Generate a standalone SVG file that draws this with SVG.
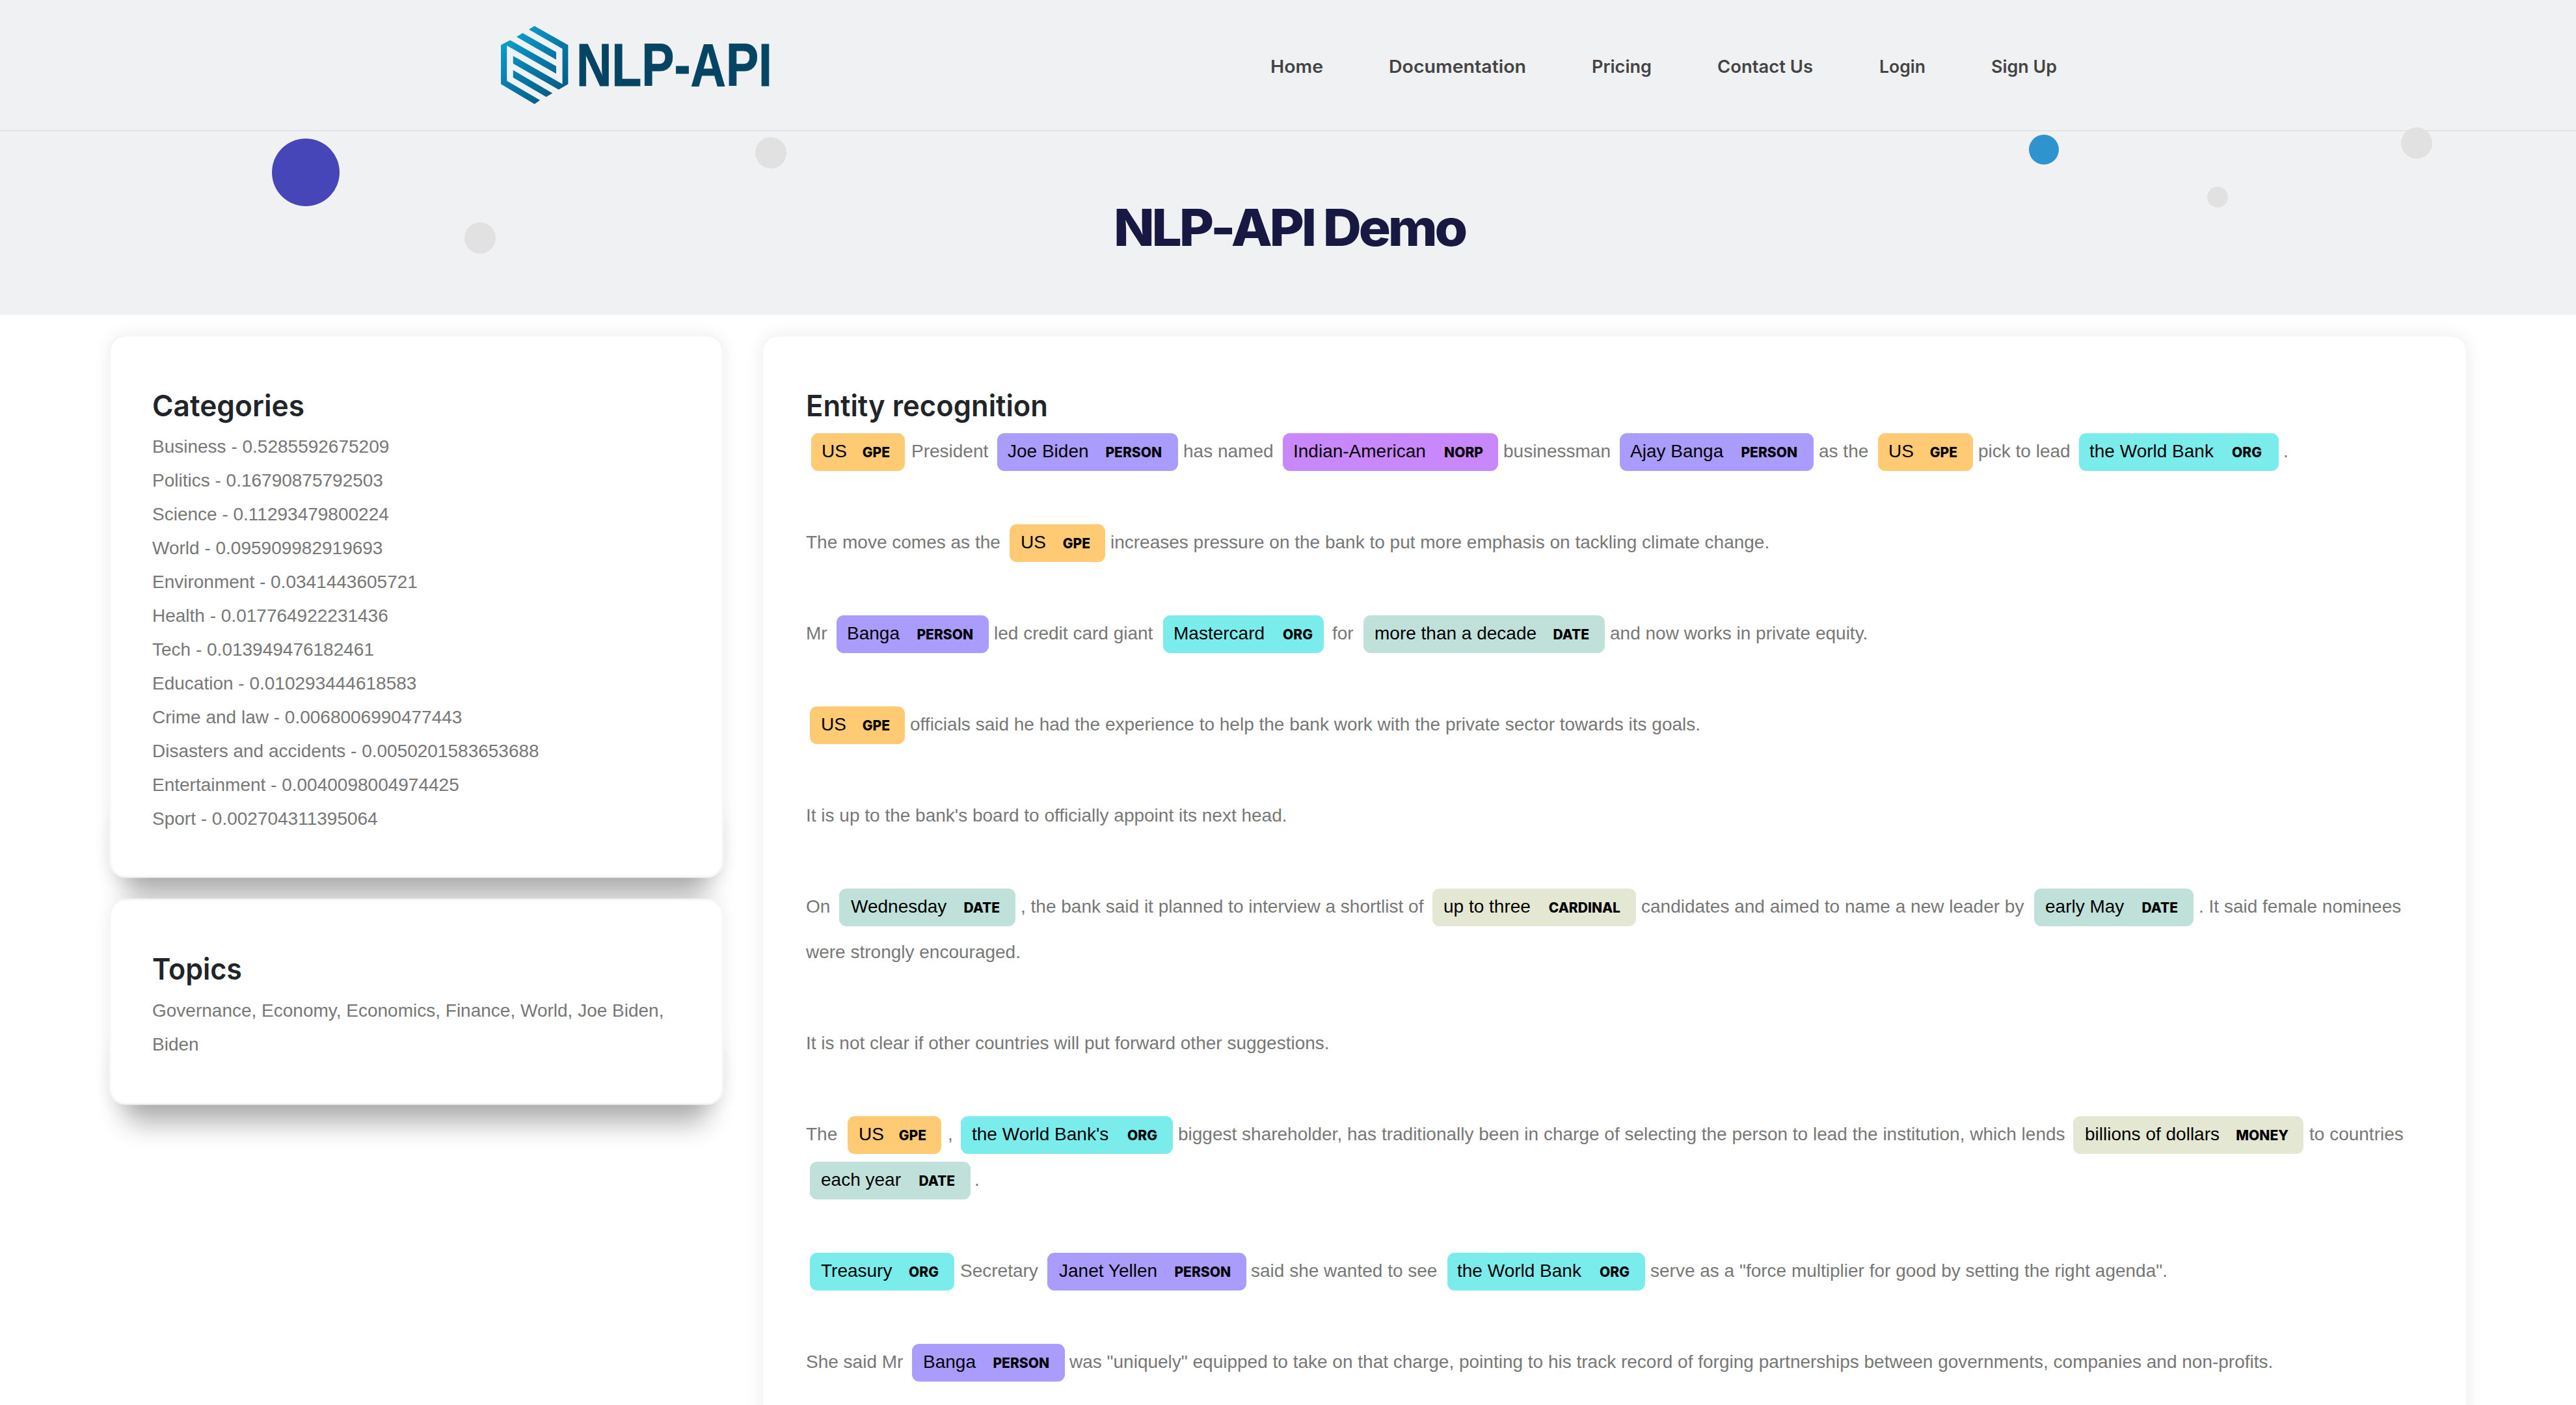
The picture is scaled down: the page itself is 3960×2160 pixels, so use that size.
<svg xmlns="http://www.w3.org/2000/svg" width="3960" height="2160" viewBox="0 0 3960 2160">
<defs>
<linearGradient id="lg" gradientUnits="userSpaceOnUse" x1="190" y1="150" x2="450" y2="420"><stop offset="0" stop-color="#0aa5d6"/><stop offset=".55" stop-color="#0478a8"/><stop offset="1" stop-color="#045a7c"/></linearGradient>
<filter id="b1" filterUnits="userSpaceOnUse" x="0" y="400" width="3960" height="1760"><feGaussianBlur stdDeviation="20"/></filter>
<filter id="b2" filterUnits="userSpaceOnUse" x="0" y="400" width="3960" height="1760"><feGaussianBlur stdDeviation="14"/></filter>
</defs>
<style>
text{white-space:pre}
.b{font:28px "Liberation Sans",Arial,sans-serif;fill:#777}
.c{font:28px "Liberation Sans",Arial,sans-serif;fill:#777}
.m{font:28px "Liberation Sans",Arial,sans-serif;fill:#000}
.l{font:800 21px "Inter",sans-serif;fill:#000}
.h{font:600 45px "Inter",sans-serif;fill:#212529}
.n{font:600 27px "Inter",sans-serif;fill:#444}
.card{fill:#fff;stroke:#f6f6f6;stroke-width:3}
.sh{fill:#000;opacity:.3;filter:url(#b1)}
.sf{fill:#000;opacity:.08;filter:url(#b2)}
.gpe{fill:#feca74}.per{fill:#aa9cfc}.nor{fill:#c887fb}.org{fill:#7aecec}.dat{fill:#bfe1d9}.car{fill:#e4e7d2}
</style>
<rect width="3960" height="2160" fill="#fff"/>
<g id="header">
<rect width="3960" height="484" fill="#f0f1f3"/>
<rect y="200" width="3960" height="2" fill="#e3e5e8"/>
<circle cx="470" cy="265" r="52" fill="#4646b8"/>
<circle cx="1185" cy="235" r="24" fill="#e1e1e1"/>
<circle cx="738" cy="366" r="24" fill="#e1e1e1"/>
<circle cx="3142" cy="230" r="23" fill="#2f94cd"/>
<circle cx="3715" cy="220" r="24" fill="#e1e1e1"/>
<circle cx="3409" cy="303" r="16" fill="#e1e1e1"/>
</g>
<g id="logo">
<g transform="translate(700 0) scale(.3827 .3333)" fill="url(#lg)">
<path d="M295 136L318 120 453 208V388L415 413 232 293V258L430 388V225Z"/>
<path d="M246 170L270 152 405 240V275Z"/>
<path d="M183 208L220 185 405 305V340L207 210V373L340 462 318 480 183 388Z"/>
<path d="M232 323L390 430 365 447 232 358Z"/>
</g>
<text x="886" y="132" textLength="301" lengthAdjust="spacingAndGlyphs" style="font:700 92px 'Liberation Sans',Arial,sans-serif;fill:#044564;stroke:#044564;stroke-width:1">NLP-API</text>
</g>
<g id="nav">
<text class="n" x="1953" y="112" textLength="81" lengthAdjust="spacingAndGlyphs">Home</text>
<text class="n" x="2135" y="112" textLength="211" lengthAdjust="spacingAndGlyphs">Documentation</text>
<text class="n" x="2447" y="112" textLength="92" lengthAdjust="spacingAndGlyphs">Pricing</text>
<text class="n" x="2640" y="112" textLength="147" lengthAdjust="spacingAndGlyphs">Contact Us</text>
<text class="n" x="2889" y="112" textLength="71" lengthAdjust="spacingAndGlyphs">Login</text>
<text class="n" x="3061" y="112" textLength="101" lengthAdjust="spacingAndGlyphs">Sign Up</text>
</g>
<text id="title" x="1712" y="378" textLength="540" lengthAdjust="spacingAndGlyphs" style="font:800 78px 'Inter',sans-serif;letter-spacing:-4px;fill:#171942">NLP-API Demo</text>

<g id="shadows">
<rect class="sf" x="169" y="516" width="942" height="832" rx="24"/>
<rect class="sh" x="190" y="1250" width="900" height="128" rx="24"/>
<rect class="sf" x="169" y="1383" width="942" height="314" rx="24"/>
<rect class="sh" x="190" y="1600" width="900" height="127" rx="24"/>
<rect class="sf" x="1172" y="516" width="2620" height="1800" rx="24"/>
</g>
<g id="card-categories">
<rect class="card" x="169" y="516" width="942" height="832" rx="24"/>
<text class="h" x="234" y="640" textLength="234" lengthAdjust="spacingAndGlyphs">Categories</text>
<text class="c" x="234" y="696">Business - 0.5285592675209</text>
<text class="c" x="234" y="748">Politics - 0.16790875792503</text>
<text class="c" x="234" y="800">Science - 0.11293479800224</text>
<text class="c" x="234" y="852">World - 0.095909982919693</text>
<text class="c" x="234" y="904">Environment - 0.0341443605721</text>
<text class="c" x="234" y="956">Health - 0.017764922231436</text>
<text class="c" x="234" y="1008">Tech - 0.013949476182461</text>
<text class="c" x="234" y="1060">Education - 0.010293444618583</text>
<text class="c" x="234" y="1112">Crime and law - 0.0068006990477443</text>
<text class="c" x="234" y="1164">Disasters and accidents - 0.0050201583653688</text>
<text class="c" x="234" y="1216">Entertainment - 0.0040098004974425</text>
<text class="c" x="234" y="1268">Sport - 0.002704311395064</text>
</g>
<g id="card-topics">
<rect class="card" x="169" y="1383" width="942" height="314" rx="24"/>
<text class="h" x="234" y="1506" textLength="138" lengthAdjust="spacingAndGlyphs">Topics</text>
<text class="c" x="234" y="1563">Governance, Economy, Economics, Finance, World, Joe Biden,</text>
<text class="c" x="234" y="1615">Biden</text>
</g>
<g id="card-entity">
<rect class="card" x="1172" y="516" width="2620" height="1800" rx="24"/>
<text class="h" x="1239" y="640" textLength="372" lengthAdjust="spacingAndGlyphs">Entity recognition</text>

<text class="b" x="1401" y="703">President</text>
<text class="b" x="1819" y="703">has named</text>
<text class="b" x="2311" y="703">businessman</text>
<text class="b" x="2796" y="703">as the</text>
<text class="b" x="3041" y="703">pick to lead</text>
<text class="b" x="3510" y="703">.</text>
<g id="e1"><rect class="gpe" x="1247" y="666" width="144" height="58" rx="11"/><text class="m" x="1263" y="703">US</text><text class="l" x="1368" y="703" text-anchor="end">GPE</text></g>
<g id="e2"><rect class="per" x="1533" y="666" width="278" height="58" rx="11"/><text class="m" x="1549" y="703">Joe Biden</text><text class="l" x="1786" y="703" text-anchor="end">PERSON</text></g>
<g id="e3"><rect class="nor" x="1972" y="666" width="331" height="58" rx="11"/><text class="m" x="1988" y="703">Indian-American</text><text class="l" x="2280" y="703" text-anchor="end">NORP</text></g>
<g id="e4"><rect class="per" x="2490" y="666" width="298" height="58" rx="11"/><text class="m" x="2506" y="703">Ajay Banga</text><text class="l" x="2763" y="703" text-anchor="end">PERSON</text></g>
<g id="e5"><rect class="gpe" x="2887" y="666" width="146" height="58" rx="11"/><text class="m" x="2903" y="703">US</text><text class="l" x="3009" y="703" text-anchor="end">GPE</text></g>
<g id="e6"><rect class="org" x="3196" y="666" width="307" height="58" rx="11"/><text class="m" x="3212" y="703">the World Bank</text><text class="l" x="3477" y="703" text-anchor="end">ORG</text></g>

<text class="b" x="1239" y="843">The move comes as the</text>
<text class="b" x="1707" y="843">increases pressure on the bank to put more emphasis on tackling climate change.</text>
<g id="e7"><rect class="gpe" x="1552" y="806" width="147" height="58" rx="11"/><text class="m" x="1569" y="843">US</text><text class="l" x="1676" y="843" text-anchor="end">GPE</text></g>

<text class="b" x="1239" y="983">Mr</text>
<text class="b" x="1528" y="983">led credit card giant</text>
<text class="b" x="2048" y="983">for</text>
<text class="b" x="2475" y="983">and now works in private equity.</text>
<g id="e8"><rect class="per" x="1286" y="946" width="234" height="58" rx="11"/><text class="m" x="1302" y="983">Banga</text><text class="l" x="1496" y="983" text-anchor="end">PERSON</text></g>
<g id="e9"><rect class="org" x="1788" y="946" width="247" height="58" rx="11"/><text class="m" x="1804" y="983">Mastercard</text><text class="l" x="2018" y="983" text-anchor="end">ORG</text></g>
<g id="e10"><rect class="dat" x="2096" y="946" width="371" height="58" rx="11"/><text class="m" x="2113" y="983">more than a decade</text><text class="l" x="2443" y="983" text-anchor="end">DATE</text></g>

<text class="b" x="1399" y="1123">officials said he had the experience to help the bank work with the private sector towards its goals.</text>
<g id="e11"><rect class="gpe" x="1245" y="1086" width="146" height="58" rx="11"/><text class="m" x="1262" y="1123">US</text><text class="l" x="1368" y="1123" text-anchor="end">GPE</text></g>

<text class="b" x="1239" y="1263">It is up to the bank's board to officially appoint its next head.</text>

<text class="b" x="1239" y="1403">On</text>
<text class="b" x="1569" y="1403">, the bank said it planned to interview a shortlist of</text>
<text class="b" x="2523" y="1403">candidates and aimed to name a new leader by</text>
<text class="b" x="3380" y="1403">. It said female nominees</text>
<g id="e12"><rect class="dat" x="1290" y="1366" width="271" height="58" rx="11"/><text class="m" x="1308" y="1403">Wednesday</text><text class="l" x="1537" y="1403" text-anchor="end">DATE</text></g>
<g id="e13"><rect class="car" x="2202" y="1366" width="313" height="58" rx="11"/><text class="m" x="2219" y="1403">up to three</text><text class="l" x="2491" y="1403" text-anchor="end">CARDINAL</text></g>
<g id="e14"><rect class="dat" x="3127" y="1366" width="245" height="58" rx="11"/><text class="m" x="3144" y="1403">early May</text><text class="l" x="3348" y="1403" text-anchor="end">DATE</text></g>
<text class="b" x="1239" y="1473">were strongly encouraged.</text>

<text class="b" x="1239" y="1613">It is not clear if other countries will put forward other suggestions.</text>

<text class="b" x="1239" y="1753">The</text>
<text class="b" x="1457" y="1753">,</text>
<text class="b" x="1811" y="1753">biggest shareholder, has traditionally been in charge of selecting the person to lead the institution, which lends</text>
<text class="b" x="3550" y="1753">to countries</text>
<g id="e15"><rect class="gpe" x="1303" y="1716" width="144" height="58" rx="11"/><text class="m" x="1320" y="1753">US</text><text class="l" x="1424" y="1753" text-anchor="end">GPE</text></g>
<g id="e16"><rect class="org" x="1477" y="1716" width="326" height="58" rx="11"/><text class="m" x="1494" y="1753">the World Bank's</text><text class="l" x="1779" y="1753" text-anchor="end">ORG</text></g>
<g id="e17"><rect class="car" x="3187" y="1716" width="354" height="58" rx="11"/><text class="m" x="3205" y="1753">billions of dollars</text><text class="l" x="3518" y="1753" text-anchor="end">MONEY</text></g>

<text class="b" x="1498" y="1823">.</text>
<g id="e18"><rect class="dat" x="1245" y="1786" width="247" height="58" rx="11"/><text class="m" x="1262" y="1823">each year</text><text class="l" x="1468" y="1823" text-anchor="end">DATE</text></g>

<text class="b" x="1476" y="1963">Secretary</text>
<text class="b" x="1923" y="1963">said she wanted to see</text>
<text class="b" x="2537" y="1963">serve as a "force multiplier for good by setting the right agenda".</text>
<g id="e19"><rect class="org" x="1245" y="1926" width="222" height="58" rx="11"/><text class="m" x="1262" y="1963">Treasury</text><text class="l" x="1443" y="1963" text-anchor="end">ORG</text></g>
<g id="e20"><rect class="per" x="1610" y="1926" width="306" height="58" rx="11"/><text class="m" x="1628" y="1963">Janet Yellen</text><text class="l" x="1892" y="1963" text-anchor="end">PERSON</text></g>
<g id="e21"><rect class="org" x="2225" y="1926" width="304" height="58" rx="11"/><text class="m" x="2240" y="1963">the World Bank</text><text class="l" x="2505" y="1963" text-anchor="end">ORG</text></g>

<text class="b" x="1239" y="2103">She said Mr</text>
<text class="b" x="1644" y="2103">was "uniquely" equipped to take on that charge, pointing to his track record of forging partnerships between governments, companies and non-profits.</text>
<g id="e22"><rect class="per" x="1402" y="2066" width="235" height="58" rx="11"/><text class="m" x="1419" y="2103">Banga</text><text class="l" x="1613" y="2103" text-anchor="end">PERSON</text></g>
</g>
</svg>
